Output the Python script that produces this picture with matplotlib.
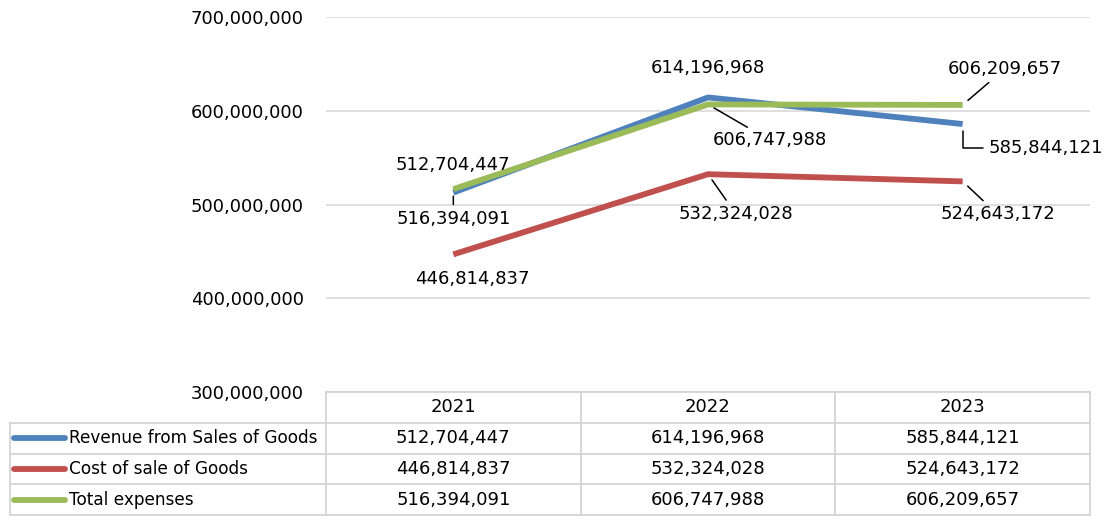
import matplotlib
matplotlib.use('Agg')
import matplotlib.pyplot as plt
from matplotlib.ticker import FuncFormatter

# Data
years = ['2021', '2022', '2023']
revenue = [512704447, 614196968, 585844121]
cost = [446814837, 532324028, 524643172]
expenses = [516394091, 606747988, 606209657]
series_names = ['Revenue from Sales of Goods', 'Cost of sale of Goods', 'Total expenses']
colors = ['#4F81BD', '#C0504D', '#9BBB59']

plt.rcParams['font.family'] = ['DejaVu Sans']
FS = 13

W, H = 1109, 525
fig = plt.figure(figsize=(W / 100, H / 100), dpi=100)

# main plot area
ax = fig.add_axes([326 / W, (H - 392) / H, (1090 - 326) / W, (392 - 17) / H])
x = list(range(len(years)))
ax.plot(x, revenue, color=colors[0], lw=4.2, solid_capstyle='butt', zorder=3)
ax.plot(x, cost, color=colors[1], lw=4.2, solid_capstyle='butt', zorder=3)
ax.plot(x, expenses, color=colors[2], lw=4.2, solid_capstyle='butt', zorder=4)

ax.set_xlim(-0.5, 2.5)
ax.set_ylim(300000000, 700000000)
ax.set_yticks(range(300000000, 700000001, 100000000))
ax.yaxis.set_major_formatter(FuncFormatter(lambda v, p: f'{int(v):,}'))
ax.set_xticks([])
ax.tick_params(axis='y', length=0, pad=16, labelsize=FS, colors='black')
for s in ax.spines.values():
    s.set_visible(False)
ax.grid(axis='y', color='#D9D9D9', lw=1.2)
ax.set_axisbelow(True)

# data labels (offsets in pixels, leader line flag)
def label(xi, val, dx, dy, line=True, conn='arc3'):
    kw = {}
    if line:
        kw['arrowprops'] = dict(arrowstyle='-', color='black', lw=1.1,
                                shrinkA=2, shrinkB=5, connectionstyle=conn)
    ax.annotate(f'{val:,}', (xi, val), xytext=(dx, dy), textcoords='offset pixels',
                ha='center', va='center', fontsize=FS, zorder=6, **kw)

label(0, revenue[0], 0, 28, line=False)
label(0, expenses[0], 0, -30)
label(0, cost[0], 19, -25, line=False)
label(1, revenue[1], 0, 29, line=False)
label(1, expenses[1], 62, -36)
label(1, cost[1], 28, -40)
label(2, expenses[2], 42, 36)
label(2, revenue[2], 83, -24, conn='angle,angleA=0,angleB=90,rad=0')
label(2, cost[2], 35, -33)

# data table below
tax = fig.add_axes([10 / W, 10 / H, (1090 - 10) / W, (515 - 392) / H])
unit = (1090 - 326) / 3
left = -0.5 - (326 - 10) / unit
tax.set_xlim(left, 2.5)
tax.set_ylim(4, 0)
tax.axis('off')
gc = '#D4D4D4'
tax.plot([-0.5, 2.5], [0, 0], color=gc, lw=1.3, clip_on=False)
for r in range(1, 5):
    tax.plot([left, 2.5], [r, r], color=gc, lw=1.3, clip_on=False)
tax.plot([left, left], [1, 4], color=gc, lw=1.3, clip_on=False)
for c in [-0.5, 0.5, 1.5, 2.5]:
    tax.plot([c, c], [0, 4], color=gc, lw=1.3, clip_on=False)

for i, yr in enumerate(years):
    tax.text(i, 0.5, yr, ha='center', va='center', fontsize=FS)
lx0 = left + 3.5 / unit
lx1 = left + 55 / unit
for r, (name, vals, col) in enumerate(zip(series_names, [revenue, cost, expenses], colors)):
    yy = r + 1.5
    tax.plot([lx0, lx1], [yy, yy], color=col, lw=4.2, solid_capstyle='round')
    tax.text(lx1 + 4 / unit, yy, name, ha='left', va='center', fontsize=12.2)
    for i, v in enumerate(vals):
        tax.text(i, yy, f'{v:,}', ha='center', va='center', fontsize=FS)

fig.savefig('out.png', dpi=100)
